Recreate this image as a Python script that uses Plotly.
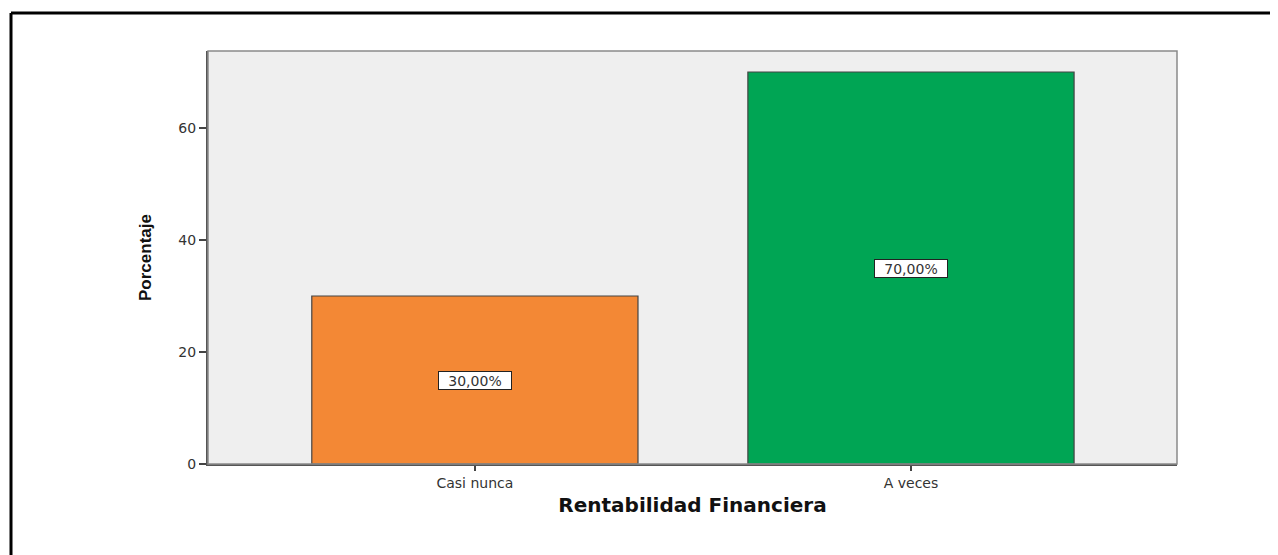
import plotly.graph_objects as go

categories = ["Casi nunca", "A veces"]
percentages = [30.0, 70.0]
bar_colors = ["#F38835", "#00A554"]
y_tick_values = [0, 20, 40, 60]

x_title = "Rentabilidad Financiera"
y_title = "Porcentaje"

labels = [f"{v:.2f}%".replace(".", ",") for v in percentages]

# page body has an 8px margin: work in screenshot pixels and shift
OFF = 8
W, H = 1278 - OFF, 555 - OFF
PL, PR, PT, PB = 208 - OFF, 1177 - OFF, 51 - OFF, 464 - OFF

fig = go.Figure()
fig.add_trace(go.Bar(
    x=categories,
    y=percentages,
    width=0.748,
    marker=dict(color=bar_colors, line=dict(color="#444444", width=1.2)),
    hoverinfo="skip",
    showlegend=False,
))

for cat, val, lab in zip(categories, percentages, labels):
    fig.add_annotation(
        x=cat, y=val / 2, text=lab, showarrow=False,
        font=dict(family="DejaVu Sans", size=14, color="#333333"),
        bgcolor="white", bordercolor="#222222", borderwidth=1, borderpad=1,
        width=70, height=15,
    )

# light frame of the plotting area (top/right)
fig.add_shape(type="rect", xref="paper", yref="paper", x0=0, x1=1, y0=0, y1=1,
              line=dict(color="#8a8a8a", width=1.5), layer="above")

def px_x(px):
    return (px - OFF - PL) / (PR - PL)
def px_y(py):
    return (PB - (py - OFF)) / (PB - PT)
# outer black border of the picture (top and left edges visible)
fig.add_shape(type="line", xref="paper", yref="paper",
              x0=px_x(11), x1=px_x(1300), y0=px_y(13), y1=px_y(13),
              line=dict(color="black", width=3))
fig.add_shape(type="line", xref="paper", yref="paper",
              x0=px_x(11), x1=px_x(11), y0=px_y(13), y1=px_y(580),
              line=dict(color="black", width=3))

fig.update_layout(
    width=W, height=H,
    margin=dict(l=PL, r=W - PR, t=PT, b=H - PB),
    paper_bgcolor="white",
    plot_bgcolor="#EFEFEF",
    xaxis=dict(
        type="category",
        range=[-0.612, 1.61],
        showgrid=False, zeroline=False,
        showline=True, linecolor="#555555", linewidth=2,
        ticks="outside", ticklen=5, tickcolor="#444444", tickwidth=1.5,
        tickfont=dict(family="DejaVu Sans", size=14, color="#333333"),
        title=dict(text=f"<b>{x_title}</b>", standoff=8,
                   font=dict(family="DejaVu Sans", size=20, color="#111111")),
    ),
    yaxis=dict(
        range=[0, 73.75],
        tickvals=y_tick_values,
        showgrid=False, zeroline=False,
        showline=True, linecolor="#555555", linewidth=2,
        ticks="outside", ticklen=7, tickcolor="#444444", tickwidth=1.5,
        tickfont=dict(family="DejaVu Sans", size=14, color="#333333"),
        title=dict(text=f"<b>{y_title}</b>", standoff=22,
                   font=dict(family="Liberation Sans, sans-serif",
                             size=17, color="#111111")),
    ),
)

fig.write_html("out.html")
